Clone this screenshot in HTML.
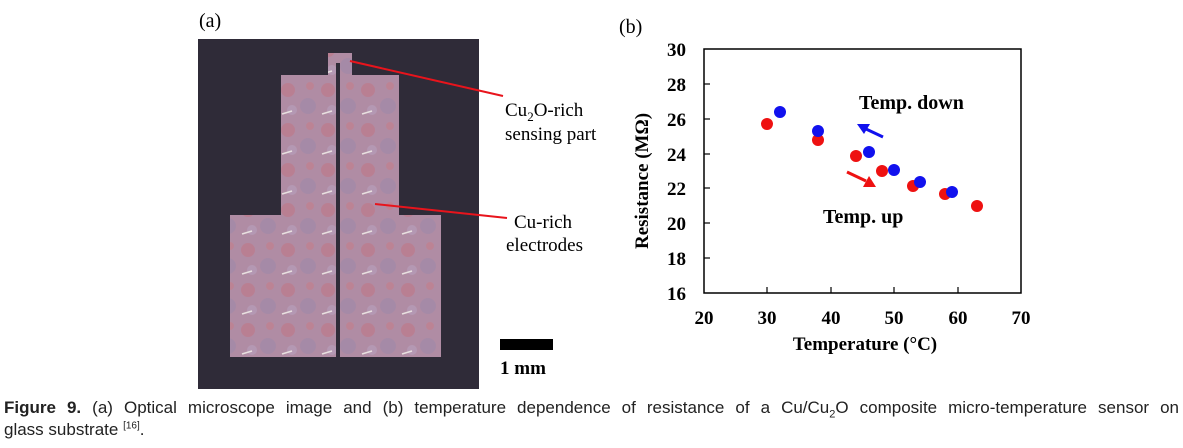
<!DOCTYPE html>
<html><head><meta charset="utf-8"><style>
body{margin:0;background:#fff;width:1183px;height:448px;overflow:hidden;position:relative;font-family:"Liberation Serif",serif}
.cap{position:absolute;left:4px;width:1175px;font-family:"Liberation Sans",sans-serif;font-size:17px;color:#222;white-space:nowrap}
</style></head><body>
<svg width="1183" height="448" style="position:absolute;left:0;top:0" font-family="Liberation Serif, serif">
<defs>
<pattern id="tex" width="40" height="40" patternUnits="userSpaceOnUse">
<rect width="40" height="40" fill="#b08ca4"/>
<circle cx="8" cy="10" r="7" fill="#c07482" opacity=".55"/>
<circle cx="28" cy="26" r="8" fill="#9e88a8" opacity=".6"/>
<circle cx="30" cy="6" r="4" fill="#c87a84" opacity=".5"/>
<circle cx="12" cy="30" r="5" fill="#b8a0bc" opacity=".6"/>
<path d="M2 34 l10 -3" stroke="#e8e0e0" stroke-width="1.5"/>
</pattern>
</defs>
<text x="199" y="27" font-size="20">(a)</text>
<rect x="198" y="39" width="281" height="350" fill="#2f2b38"/>
<g fill="url(#tex)">
<rect x="328" y="53" width="24" height="24"/>
<rect x="281" y="75" width="118" height="143"/>
<rect x="230" y="215" width="211" height="142"/>
</g>
<rect x="336" y="63" width="4" height="294" fill="#2f2b38"/>
<line x1="350" y1="61" x2="503" y2="96" stroke="#e8141c" stroke-width="2"/>
<line x1="375" y1="204" x2="507" y2="218" stroke="#e8141c" stroke-width="2"/>
<text x="505" y="116" font-size="19">Cu<tspan font-size="13" dy="5">2</tspan><tspan dy="-5">O-rich</tspan></text>
<text x="505" y="140" font-size="19">sensing part</text>
<text x="514" y="228" font-size="19">Cu-rich</text>
<text x="506" y="251" font-size="19">electrodes</text>
<rect x="500" y="339" width="53" height="11" fill="#000"/>
<text x="500" y="374" font-size="19" font-weight="bold">1 mm</text>

<text x="619" y="33" font-size="20">(b)</text>
<rect x="704" y="49" width="317" height="244" fill="none" stroke="#000" stroke-width="1.5"/>
<g stroke="#000" stroke-width="1.2">
<line x1="704" y1="84" x2="710" y2="84"/><line x1="704" y1="119" x2="710" y2="119"/><line x1="704" y1="154" x2="710" y2="154"/><line x1="704" y1="188" x2="710" y2="188"/><line x1="704" y1="223" x2="710" y2="223"/><line x1="704" y1="258" x2="710" y2="258"/>
<line x1="767" y1="293" x2="767" y2="287"/><line x1="831" y1="293" x2="831" y2="287"/><line x1="894" y1="293" x2="894" y2="287"/><line x1="958" y1="293" x2="958" y2="287"/>
</g>
<g font-size="19" font-weight="bold" text-anchor="end">
<text x="686" y="56">30</text><text x="686" y="91">28</text><text x="686" y="126">26</text><text x="686" y="161">24</text><text x="686" y="195">22</text><text x="686" y="230">20</text><text x="686" y="265">18</text><text x="686" y="300">16</text>
</g>
<g font-size="19" font-weight="bold" text-anchor="middle">
<text x="704" y="324">20</text><text x="767" y="324">30</text><text x="831" y="324">40</text><text x="894" y="324">50</text><text x="958" y="324">60</text><text x="1021" y="324">70</text>
<text x="865" y="350">Temperature (°C)</text>
<text transform="translate(648,181) rotate(-90)">Resistance (MΩ)</text>
</g>
<g fill="#ee1111">
<circle cx="767" cy="124" r="6"/><circle cx="818" cy="140" r="6"/><circle cx="856" cy="156" r="6"/><circle cx="882" cy="171" r="6"/><circle cx="913" cy="186" r="6"/><circle cx="945" cy="194" r="6"/><circle cx="977" cy="206" r="6"/>
</g>
<g fill="#1111ee">
<circle cx="780" cy="112" r="6"/><circle cx="818" cy="131" r="6"/><circle cx="869" cy="152" r="6"/><circle cx="894" cy="170" r="6"/><circle cx="920" cy="182" r="6"/><circle cx="952" cy="192" r="6"/>
</g>
<text x="859" y="109" font-size="20" font-weight="bold">Temp. down</text>
<text x="823" y="223" font-size="20" font-weight="bold">Temp. up</text>
<line x1="883" y1="137" x2="866" y2="129" stroke="#1111ee" stroke-width="3"/>
<polygon points="857,124 870,124 864,134" fill="#1111ee"/>
<line x1="847" y1="172" x2="866" y2="181" stroke="#ee1111" stroke-width="3"/>
<polygon points="876,187 863,187 869,176" fill="#ee1111"/>
</svg>
<div class="cap" style="top:398px;text-align:justify;text-align-last:justify"><b>Figure 9.</b> (a) Optical microscope image and (b) temperature dependence of resistance of a Cu/Cu<sub style="font-size:11px">2</sub>O composite micro-temperature sensor on</div>
<div class="cap" style="top:420px">glass substrate <sup style="font-size:10px">[16]</sup>.</div>
</body></html>
